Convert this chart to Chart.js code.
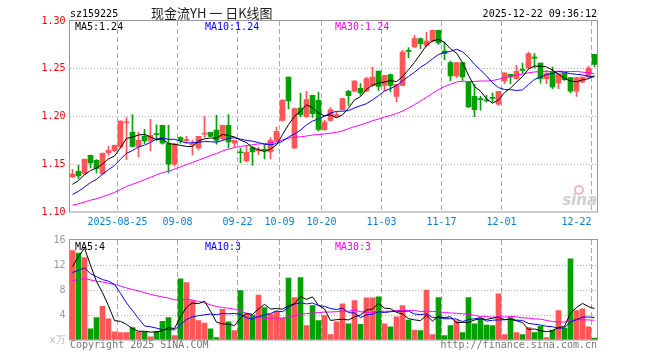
<!DOCTYPE html>
<html>
<head>
<meta charset="utf-8">
<script src="https://cdn.jsdelivr.net/npm/chart.js@4.4.1/dist/chart.umd.min.js"></script>
<style>
html, body { margin: 0; padding: 0; background: #fff; }
#wrap { position: relative; width: 660px; height: 360px; }
#wrap canvas { position: absolute; left: 0; top: 0; }
</style>
</head>
<body>
<div id="wrap">
  <canvas id="kChart" width="660" height="360"></canvas>
  <canvas id="volChart" width="660" height="360"></canvas>
</div>
<script>
// trading days shown (2025)
var dates = ['08-13','08-14','08-15','08-18','08-19','08-20','08-21','08-22','08-25','08-26',
             '08-27','08-28','08-29','09-01','09-02','09-03','09-04','09-05','09-08','09-09',
             '09-10','09-11','09-12','09-15','09-16','09-17','09-18','09-19','09-22','09-23',
             '09-24','09-25','09-26','09-29','09-30','10-09','10-10','10-13','10-14','10-15',
             '10-16','10-17','10-20','10-21','10-22','10-23','10-24','10-27','10-28','10-29',
             '10-30','10-31','11-03','11-04','11-05','11-06','11-07','11-10','11-11','11-12',
             '11-13','11-14','11-17','11-18','11-19','11-20','11-21','11-24','11-25','11-26',
             '11-27','11-28','12-01','12-02','12-03','12-04','12-05','12-08','12-09','12-10',
             '12-11','12-12','12-15','12-16','12-17','12-18','12-19','12-22'];

var openP = [1.1367,1.1426,1.1402,1.1594,1.1541,1.1402,1.1621,1.1646,1.1681,1.1935,
             1.1834,1.1687,1.1796,1.1743,1.1817,1.1907,1.1716,1.1500,1.1778,1.1748,
             1.1700,1.1670,1.1815,1.1834,1.1859,1.1768,1.1907,1.1722,1.1625,1.1534,
             1.1674,1.1640,1.1650,1.1628,1.1750,1.1960,1.2413,1.1670,1.2089,1.1998,
             1.2222,1.2170,1.1862,1.1960,1.2002,1.2072,1.2264,1.2264,1.2295,1.2267,
             1.2323,1.2476,1.2326,1.2438,1.2211,1.2326,1.2685,1.2728,1.2815,1.2745,
             1.2790,1.2902,1.2686,1.2564,1.2424,1.2564,1.2361,1.2211,1.2180,1.2166,
             1.2200,1.2128,1.2372,1.2442,1.2396,1.2487,1.2508,1.2616,1.2560,1.2396,
             1.2466,1.2351,1.2455,1.2407,1.2264,1.2361,1.2414,1.2651];
var highP = [1.1447,1.1489,1.1556,1.1596,1.1550,1.1620,1.1688,1.1700,1.1955,1.1990,
             1.2019,1.1838,1.1866,1.1970,1.1914,1.1910,1.1907,1.1716,1.1790,1.1792,
             1.1750,1.1792,1.2000,1.1834,1.2012,1.1910,1.2019,1.1752,1.1668,1.1695,
             1.1688,1.1680,1.1706,1.1780,1.1890,1.2180,1.2413,1.2090,1.2246,1.2264,
             1.2222,1.2255,1.1960,1.2093,1.2047,1.2190,1.2275,1.2379,1.2344,1.2414,
             1.2518,1.2476,1.2431,1.2445,1.2337,1.2693,1.2721,1.2850,1.2825,1.2885,
             1.2905,1.2905,1.2780,1.2581,1.2564,1.2564,1.2361,1.2337,1.2211,1.2222,
             1.2246,1.2264,1.2456,1.2442,1.2536,1.2560,1.2675,1.2658,1.2560,1.2483,
             1.2518,1.2449,1.2455,1.2407,1.2407,1.2414,1.2525,1.2651];
var lowP  = [1.1360,1.1350,1.1390,1.1460,1.1408,1.1390,1.1593,1.1630,1.1670,1.1548,
             1.1680,1.1576,1.1716,1.1640,1.1743,1.1710,1.1409,1.1480,1.1720,1.1723,
             1.1597,1.1650,1.1780,1.1790,1.1710,1.1750,1.1670,1.1680,1.1515,1.1525,
             1.1490,1.1600,1.1555,1.1559,1.1730,1.1950,1.2080,1.1663,1.1998,1.1990,
             1.1990,1.1850,1.1855,1.1950,1.1995,1.2065,1.2117,1.2257,1.2222,1.2260,
             1.2316,1.2274,1.2267,1.2257,1.2152,1.2319,1.2616,1.2721,1.2710,1.2728,
             1.2780,1.2756,1.2595,1.2372,1.2407,1.2379,1.2093,1.1998,1.2065,1.2152,
             1.2152,1.2117,1.2344,1.2344,1.2390,1.2455,1.2501,1.2508,1.2350,1.2344,
             1.2291,1.2291,1.2379,1.2246,1.2211,1.2351,1.2396,1.2518];
var closeP = [1.1398,1.1377,1.1552,1.1513,1.1457,1.1614,1.1645,1.1698,1.1953,1.1940,
              1.1687,1.1750,1.1743,1.1803,1.1810,1.1722,1.1500,1.1710,1.1750,1.1752,
              1.1716,1.1792,1.1820,1.1792,1.1750,1.1907,1.1733,1.1750,1.1620,1.1625,
              1.1628,1.1645,1.1645,1.1750,1.1845,1.2170,1.2162,1.2082,1.2019,1.2176,
              1.2030,1.1866,1.1942,1.2072,1.2020,1.2187,1.2218,1.2372,1.2246,1.2396,
              1.2414,1.2316,1.2431,1.2326,1.2337,1.2675,1.2682,1.2815,1.2763,1.2790,
              1.2902,1.2770,1.2658,1.2424,1.2564,1.2414,1.2100,1.2072,1.2176,1.2162,
              1.2190,1.2264,1.2456,1.2414,1.2473,1.2483,1.2658,1.2612,1.2400,1.2449,
              1.2309,1.2449,1.2386,1.2264,1.2407,1.2414,1.2508,1.2546];
// volume in 万
var volume = [14.3,13.9,13.2,1.8,3.6,5.4,3.4,1.3,1.2,1.2,
              2.0,1.3,1.3,0.5,1.4,3.0,3.6,0.7,9.8,9.2,
              6.3,3.1,2.7,1.8,0.4,4.9,2.9,1.5,7.9,4.2,
              4.0,7.2,5.2,4.2,4.6,3.5,9.9,6.8,10.0,2.3,
              5.5,3.1,3.9,0.85,2.9,5.8,2.6,6.3,2.5,6.75,
              6.75,6.9,2.6,2.1,3.7,5.5,3.2,1.6,1.5,8.0,
              0.85,6.8,0.7,2.3,3.1,1.2,6.8,2.6,3.4,2.4,
              2.3,7.4,0.85,3.6,1.2,0.85,2.0,1.2,2.2,0.4,
              1.6,4.7,1.9,13.0,4.7,5.0,2.1,0.3];

// days before 08-13, not drawn, only feed the moving averages
var prevClose = [1.0960,1.0990,1.0950,1.0980,1.1010,1.0970,1.1000,1.1030,1.0990,1.1020,
                 1.1040,1.1000,1.1030,1.1060,1.1020,1.1050,1.1030,1.1070,1.1040,1.1060,
                 1.1060,1.1100,1.1050,1.1120,1.1070,1.1180,1.1250,1.1290,1.1330];
var prevVolume = [8.2,9.5,7.8,10.1,8.9,9.3,7.6,8.4,10.6,9.0,
                  8.1,9.7,8.8,7.9,9.2,8.5,9.9,8.3,8.7,8.5,
                  10.5,9.2,11.0,8.6,9.9,6.0,6.4,15.5,16.6];

var tickDates = ['08-25','09-08','09-22','10-09','10-20','11-03','11-17','12-01','12-22'];
var tickText  = ['2025-08-25','09-08','09-22','10-09','10-20','11-03','11-17','12-01','12-22'];
var priceTicks = [1.10, 1.15, 1.20, 1.25, 1.30];
var volTicks = [0, 4, 8, 12, 16];

var upColor = '#ff5656';
var downColor = '#00a000';
var monoFont = '"DejaVu Sans Mono", "Liberation Mono", monospace';

function movingAvg(prev, vals, n) {
    var all = prev.concat(vals);
    var out = [];
    for (var i = prev.length; i < all.length; i++) {
        var s = 0;
        for (var j = i - n + 1; j <= i; j++) s += all[j];
        out.push(s / n);
    }
    return out;
}

function maLine(data, color) {
    return { type: 'line', data: data, borderColor: color, borderWidth: 1,
             pointRadius: 0, tension: 0, order: 0 };
}

var gridIdx = tickDates.map(function(d) { return dates.indexOf(d); });
var candleColors = closeP.map(function(c, i) { return c >= openP[i] ? upColor : downColor; });
var bodies = openP.map(function(o, i) { return [o, closeP[i]]; });
var wicks = lowP.map(function(l, i) { return [l, highP[i]]; });

function xGridColor(ctx) {
    return gridIdx.indexOf(ctx.index) >= 0 ? '#aaaaaa' : 'rgba(0,0,0,0)';
}

// frame round the plot area
var framePlugin = {
    id: 'frame',
    afterDraw: function(chart) {
        var a = chart.chartArea, ctx = chart.ctx;
        ctx.save();
        ctx.strokeStyle = '#999999';
        ctx.lineWidth = 1;
        ctx.strokeRect(a.left, Math.round(a.top) - 0.5, a.right - a.left, Math.round(a.bottom - a.top) + 0.5);
        ctx.restore();
    }
};

// title, legends, date labels, footer texts
var textPlugin = {
    id: 'texts',
    afterDraw: function(chart) {
        var ctx = chart.ctx;
        var xs = chart.scales.x;
        ctx.save();
        ctx.textBaseline = 'alphabetic';
        ctx.font = '10px ' + monoFont;
        ctx.fillStyle = '#000';
        ctx.textAlign = 'left';
        ctx.fillText('sz159225', 70, 17);
        ctx.textAlign = 'right';
        ctx.fillText('2025-12-22 09:36:12', 597, 17);

        ctx.textAlign = 'left';
        ctx.font = '13px "Noto Sans CJK SC"';
        ctx.fillStyle = '#222';
        ctx.fillText('现金流YH 一 日K线图', 151, 18);

        ctx.font = '10px ' + monoFont;
        ctx.fillStyle = '#000';
        ctx.fillText('MA5:1.24', 75, 30);
        ctx.fillStyle = '#0000ff';
        ctx.fillText('MA10:1.24', 205, 30);
        ctx.fillStyle = '#ff00ff';
        ctx.fillText('MA30:1.24', 335, 30);

        ctx.fillStyle = '#000';
        ctx.fillText('MA5:4', 75, 250);
        ctx.fillStyle = '#0000ff';
        ctx.fillText('MA10:3', 205, 250);
        ctx.fillStyle = '#ff00ff';
        ctx.fillText('MA30:3', 335, 250);

        // date labels under the price panel
        ctx.fillStyle = '#0a80d0';
        for (var k = 0; k < gridIdx.length; k++) {
            var px = xs.getPixelForValue(gridIdx[k]) - 3;
            ctx.textAlign = (k === gridIdx.length - 1) ? 'right' : 'center';
            ctx.fillText(tickText[k], px, 225);
        }

        ctx.fillStyle = '#777';
        ctx.textAlign = 'left';
        ctx.fillText('Copyright 2025 SINA.COM', 70, 348);
        ctx.textAlign = 'right';
        ctx.fillText('http://finance.sina.com.cn', 597, 348);

        // sina watermark
        ctx.strokeStyle = '#f2b8b8';
        ctx.lineWidth = 2;
        ctx.beginPath();
        ctx.arc(579, 190, 4, 0, Math.PI * 2);
        ctx.stroke();
        ctx.font = 'italic bold 15px "DejaVu Sans"';
        ctx.fillStyle = '#cfcfcf';
        ctx.fillText('sina', 597, 205);
        ctx.restore();
    }
};

Chart.defaults.font.family = monoFont;
Chart.defaults.font.size = 10;

var ma5 = movingAvg(prevClose, closeP, 5);
var ma10 = movingAvg(prevClose, closeP, 10);
var ma30 = movingAvg(prevClose, closeP, 30);

var kChart = new Chart(document.getElementById('kChart').getContext('2d'), {
    type: 'bar',
    data: {
        labels: dates,
        datasets: [
            maLine(ma5, '#000000'),
            maLine(ma10, '#0000ff'),
            maLine(ma30, '#ff00ff'),
            { data: bodies, backgroundColor: candleColors, barThickness: 5, minBarLength: 1,
              grouped: false, order: 1 },
            { data: wicks, backgroundColor: candleColors, barThickness: 1, grouped: false, order: 2 }
        ]
    },
    plugins: [framePlugin, textPlugin],
    options: {
        responsive: false,
        animation: false,
        devicePixelRatio: 1,
        layout: { padding: { left: 0, right: 62.5, top: 21, bottom: 0 } },
        plugins: { legend: { display: false }, tooltip: { enabled: false } },
        scales: {
            x: {
                offset: true,
                ticks: { display: false },
                grid: { color: xGridColor, drawTicks: false, offset: true },
                border: { display: false, dash: [5, 3] },
                afterFit: function(s) { s.height = 148; }
            },
            y: {
                min: 1.10, max: 1.30,
                afterBuildTicks: function(s) { s.ticks = priceTicks.map(function(v) { return { value: v }; }); },
                ticks: { color: '#ff0000', padding: 4,
                         callback: function(v) { return v.toFixed(2); } },
                grid: { drawTicks: false,
                        color: function(c) { return (c.index === 0 || c.index === priceTicks.length - 1) ? 'rgba(0,0,0,0)' : '#b0b0b0'; } },
                border: { display: false, dash: [1, 2] },
                afterFit: function(s) { s.width = 69.5; }
            }
        }
    }
});

var vma5 = movingAvg(prevVolume, volume, 5);
var vma10 = movingAvg(prevVolume, volume, 10);
var vma30 = movingAvg(prevVolume, volume, 30);

var volChart = new Chart(document.getElementById('volChart').getContext('2d'), {
    type: 'bar',
    data: {
        labels: dates,
        datasets: [
            maLine(vma5, '#000000'),
            maLine(vma10, '#0000ff'),
            maLine(vma30, '#ff00ff'),
            { data: volume, backgroundColor: candleColors, barThickness: 5, grouped: false, order: 1 }
        ]
    },
    plugins: [framePlugin],
    options: {
        responsive: false,
        animation: false,
        devicePixelRatio: 1,
        layout: { padding: { left: 0, right: 62.5, top: 240, bottom: 0 } },
        plugins: { legend: { display: false }, tooltip: { enabled: false } },
        scales: {
            x: {
                offset: true,
                ticks: { display: false },
                grid: { color: xGridColor, drawTicks: false, offset: true },
                border: { display: false, dash: [5, 3] },
                afterFit: function(s) { s.height = 20; }
            },
            y: {
                min: 0, max: 16,
                afterBuildTicks: function(s) { s.ticks = volTicks.map(function(v) { return { value: v }; }); },
                ticks: { color: function(c) { return c.index === 0 ? '#b8b8b8' : '#999999'; }, padding: 4,
                         callback: function(v) { return v === 0 ? 'x万' : String(v); } },
                grid: { drawTicks: false,
                        color: function(c) { return (c.index === 0 || c.index === volTicks.length - 1) ? 'rgba(0,0,0,0)' : '#b0b0b0'; } },
                border: { display: false, dash: [1, 2] },
                afterFit: function(s) { s.width = 69.5; }
            }
        }
    }
});
</script>
</body>
</html>
